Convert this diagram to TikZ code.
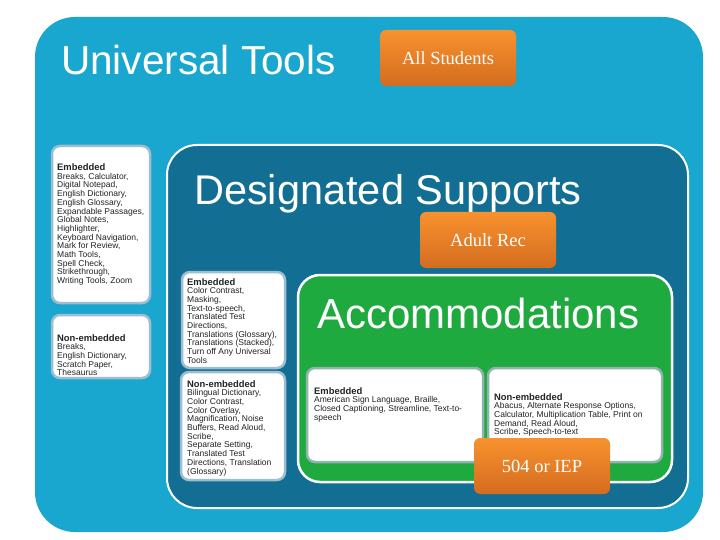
\documentclass[tikz,border=0pt]{standalone}
\usepackage{fontspec}
\setmainfont{Liberation Serif}
\setsansfont{Liberation Sans}
\definecolor{utblue}{HTML}{1AA7CF}
\definecolor{dsblue}{HTML}{126E93}
\definecolor{accgreen}{HTML}{1FAA3F}
\definecolor{tagtop}{HTML}{F8922E}
\definecolor{tagbot}{HTML}{D46C20}
\definecolor{edgeblue}{HTML}{9DBDD3}
\definecolor{edgegreen}{HTML}{93B4AE}
\definecolor{listink}{HTML}{222222}

\begin{document}
\begin{tikzpicture}[x=1pt,y=-1pt,
    headline/.style={anchor=base west,inner sep=0pt,text=white},
    listbox/.style={fill=white,line width=2.5pt,rounded corners=8pt},
    listtext/.style={anchor=north west,align=left,inner sep=0pt,text=listink,
        font=\sffamily\fontsize{8.5}{8.7}\selectfont},
    tagbox/.style={rounded corners=6pt,top color=tagtop,bottom color=tagbot,
        minimum width=136pt,minimum height=56pt,text=white,
        font=\fontsize{18.5}{20}\selectfont}]
    \newcommand{\listhead}[1]{{\bfseries\fontsize{9.4}{8.7}\selectfont #1}}
    \useasboundingbox (0,0) rectangle (720,540);
    \fill[white] (0,0) rectangle (720,540);

    \fill[utblue,rounded corners=40pt] (35,17) rectangle (703,532);
    \node[headline,font=\sffamily\fontsize{40.5}{40}\selectfont] (ut) at (61,75)
        {Universal Tools};
    \draw[listbox,draw=edgeblue] (52,146) rectangle (150,303);
    \node[listtext] (utemb) at (57,163.5) {\listhead{Embedded}\\
        Breaks, Calculator,\\ Digital Notepad,\\ English Dictionary,\\
        English Glossary,\\ Expandable Passages,\\ Global Notes,\\
        Highlighter,\\ Keyboard Navigation,\\ Mark for Review,\\
        Math Tools,\\ Spell Check,\\ Strikethrough,\\ Writing Tools, Zoom};
    \draw[listbox,draw=edgeblue] (52,315) rectangle (150,378);
    \node[listtext] (utnon) at (57,334) {\listhead{Non-embedded}\\
        Breaks,\\ English Dictionary,\\ Scratch Paper,\\ Thesaurus};

    \draw[white,line width=2pt,fill=dsblue,rounded corners=30pt]
        (167,145) rectangle (688,508);
    \node[headline,font=\sffamily\fontsize{41.5}{40}\selectfont] (ds) at (194,205)
        {Designated Supports};
    \draw[listbox,draw=edgeblue] (182,272) rectangle (285,368);
    \node[listtext] (dsemb) at (187,278) {\listhead{Embedded}\\
        Color Contrast,\\ Masking,\\ Text-to-speech,\\ Translated Test\\
        Directions,\\ Translations (Glossary),\\ Translations (Stacked),\\
        Turn off Any Universal\\ Tools};
    \draw[listbox,draw=edgeblue] (181,372) rectangle (285,480);
    \node[listtext] (dsnon) at (187,380) {\listhead{Non-embedded}\\
        Bilingual Dictionary,\\ Color Contrast,\\ Color Overlay,\\
        Magnification, Noise\\ Buffers, Read Aloud,\\ Scribe,\\
        Separate Setting,\\ Translated Test\\ Directions, Translation\\
        (Glossary)};

    \draw[white,line width=2.5pt,fill=accgreen,rounded corners=22pt]
        (298,275) rectangle (672,482);
    \node[headline,font=\sffamily\fontsize{42}{40}\selectfont] (acc) at (317,328)
        {Accommodations};
    \draw[listbox,draw=edgegreen] (307,368) rectangle (483,462);
    \node[listtext] (accemb) at (314,387) {\listhead{Embedded}\\
        American Sign Language, Braille,\\
        Closed Captioning, Streamline, Text-to-\\ speech};
    \draw[listbox,draw=edgegreen] (488,368) rectangle (662,462);
    \node[listtext] (accnon) at (494,393) {\listhead{Non-embedded}\\
        Abacus, Alternate Response Options,\\
        Calculator, Multiplication Table, Print on\\
        Demand, Read Aloud,\\ Scribe, Speech-to-text};

    \node[tagbox] (allstud) at (448,58) {All Students};
    \node[tagbox] (adultrec) at (488,240) {Adult Rec};
    \node[tagbox] (iep) at (542,466) {504 or IEP};
\end{tikzpicture}
\end{document}
